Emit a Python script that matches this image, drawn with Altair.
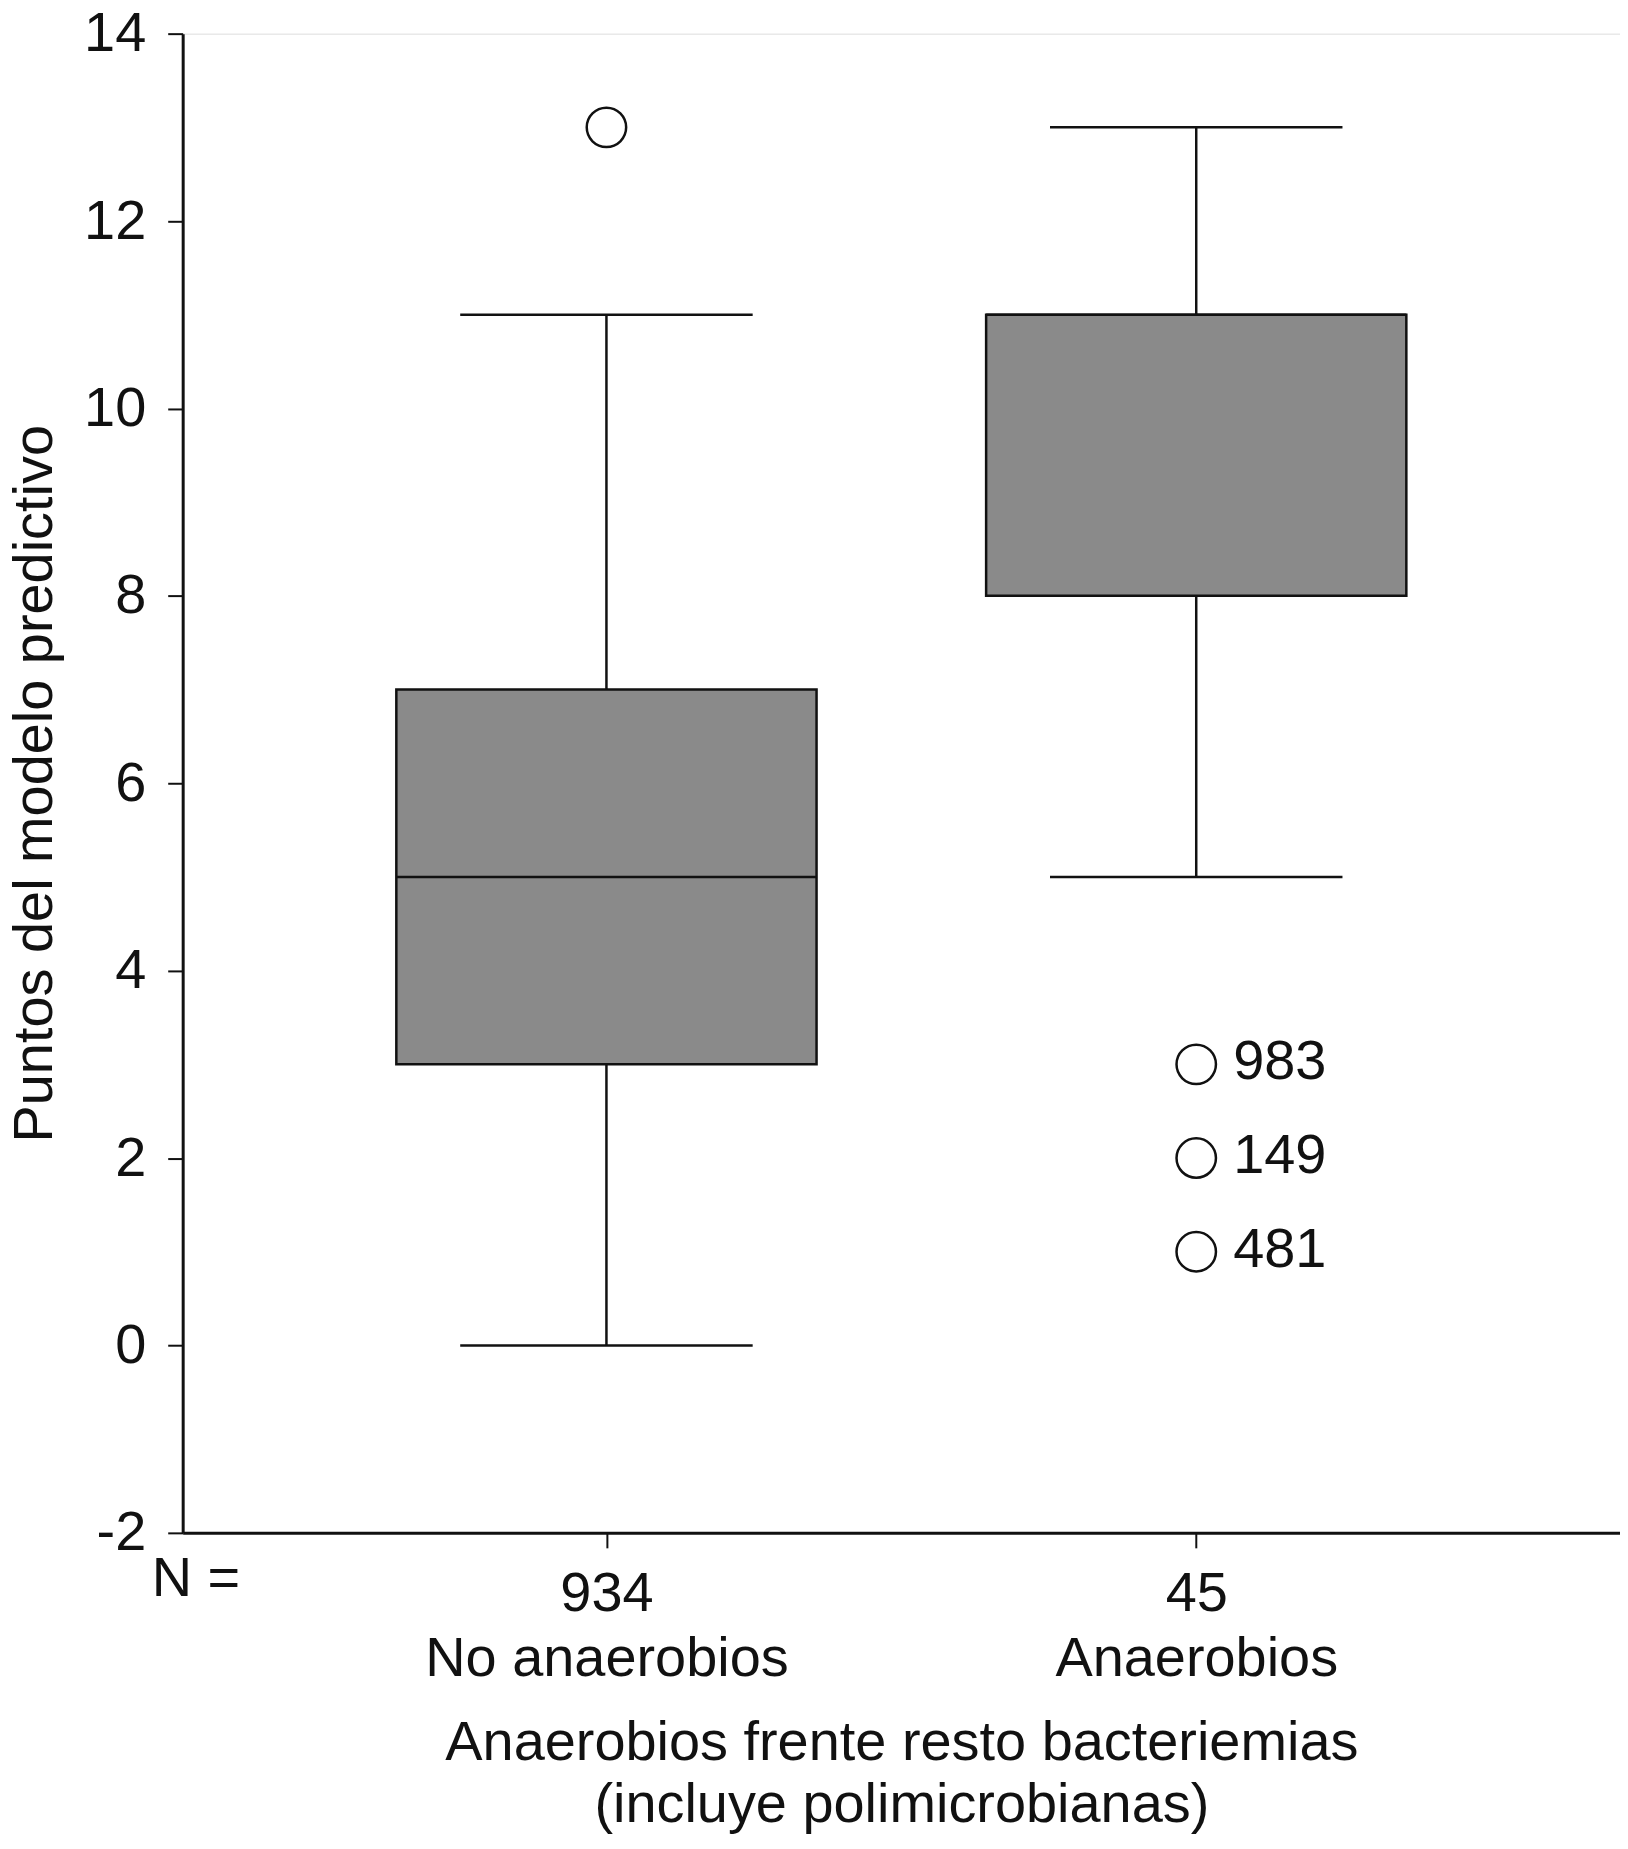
import altair as alt
import pandas as pd

# ---- data ----
groups = ["No anaerobios", "Anaerobios"]
n_counts = ["934", "45"]
whisker_low = [0, 5]
q1 = [3, 8]
median = [5, 11]
q3 = [7, 11]
whisker_high = [11, 13]

outlier_group = ["No anaerobios", "Anaerobios", "Anaerobios", "Anaerobios"]
outlier_value = [13, 3, 2, 1]
outlier_label = ["", "983", "149", "481"]

y_ticks = [-2, 0, 2, 4, 6, 8, 10, 12, 14]

FONT = "Liberation Sans"
FS = 56
W, H = 1440, 1502
BOX_FILL = "#8a8a8a"
INK = "#111111"

box_df = pd.DataFrame({
    "group": groups, "n": n_counts, "low": whisker_low, "q1": q1,
    "median": median, "q3": q3, "high": whisker_high,
})
out_df = pd.DataFrame({"group": outlier_group, "value": outlier_value, "label": outlier_label})
nlab_df = pd.DataFrame({"t": ["N ="]})

label_expr = " : ".join(
    f"datum.value == '{g}' ? ['{n}', '{g}']" for g, n in zip(groups, n_counts)
) + " : datum.label"

x_scale = alt.Scale(type="point", domain=groups, padding=0.7185)
x_enc = alt.X(
    "group:N",
    sort=groups,
    scale=x_scale,
    axis=alt.Axis(
        title=["Anaerobios frente resto bacteriemias", "(incluye polimicrobianas)"],
        labelExpr=label_expr,
        labelAngle=0, labelLimit=2000,
        labelFont=FONT, labelFontSize=FS, labelColor=INK,
        labelBaseline="top", labelPadding=19, labelLineHeight=65,
        tickSize=15, tickWidth=2, tickColor=INK,
        domainWidth=3, domainColor=INK,
        titleFont=FONT, titleFontSize=FS, titleFontWeight="normal", titleColor=INK,
        titleBaseline="alphabetic", titleY=227, titleLineHeight=62, titleLimit=3000,
        grid=False,
    ),
)

y_scale = alt.Scale(domain=[-2, 14], nice=False, zero=False)
y_axis = alt.Axis(
    title="Puntos del modelo predictivo",
    values=y_ticks,
    labelExpr="'' + datum.value",
    labelFont=FONT, labelFontSize=FS, labelColor=INK,
    labelPadding=22,
    tickSize=15, tickWidth=2, tickColor=INK,
    domainWidth=3, domainColor=INK,
    titleFont=FONT, titleFontSize=FS, titleFontWeight="normal", titleColor=INK,
    titleAngle=270, titleBaseline="alphabetic", titleX=-131, titleY=H / 2,
    titleLimit=3000,
    grid=False,
)

base = alt.Chart(box_df)

whisk_lo = base.mark_rule(color=INK, strokeWidth=2.5).encode(
    x=x_enc, y=alt.Y("low:Q", scale=y_scale, axis=y_axis), y2="q1:Q")
whisk_hi = base.mark_rule(color=INK, strokeWidth=2.5).encode(
    x=x_enc, y=alt.Y("q3:Q", scale=y_scale, axis=y_axis), y2="high:Q")
cap_lo = base.mark_tick(color=INK, size=293, thickness=2.5, opacity=1).encode(
    x=x_enc, y=alt.Y("low:Q", scale=y_scale, axis=y_axis))
cap_hi = base.mark_tick(color=INK, size=293, thickness=2.5, opacity=1).encode(
    x=x_enc, y=alt.Y("high:Q", scale=y_scale, axis=y_axis))
box = base.mark_bar(size=421, fill=BOX_FILL, stroke=INK, strokeWidth=2.5, opacity=1).encode(
    x=x_enc, y=alt.Y("q1:Q", scale=y_scale, axis=y_axis), y2="q3:Q")
med = base.mark_tick(color=INK, size=421, thickness=2.5, opacity=1).encode(
    x=x_enc, y=alt.Y("median:Q", scale=y_scale, axis=y_axis))

outl = alt.Chart(out_df).mark_point(
    shape="circle", size=1560, filled=False, stroke=INK, strokeWidth=2.5, opacity=1
).encode(x=x_enc, y=alt.Y("value:Q", scale=y_scale, axis=y_axis))

outl_txt = alt.Chart(out_df).mark_text(
    align="left", baseline="middle", dx=37, dy=-2, font=FONT, fontSize=FS, color=INK
).encode(x=alt.X("group:N", sort=groups, scale=x_scale),
         y=alt.Y("value:Q", scale=y_scale), text="label:N")

n_txt = alt.Chart(nlab_df).mark_text(
    align="left", baseline="alphabetic", font=FONT, fontSize=FS, color=INK
).encode(x=alt.value(-31), y=alt.value(1565), text="t:N")

chart = alt.layer(
    whisk_lo, whisk_hi, cap_lo, cap_hi, box, med, outl, outl_txt, n_txt
).properties(
    width=W, height=H,
    autosize=alt.AutoSizeParams(type="none"),
    padding={"left": 175, "top": 24, "right": 0, "bottom": 300},
).configure_view(
    stroke=INK, strokeWidth=3
).configure(background="white")

chart.save("out.html", embed_options={"renderer": "svg", "actions": False})
